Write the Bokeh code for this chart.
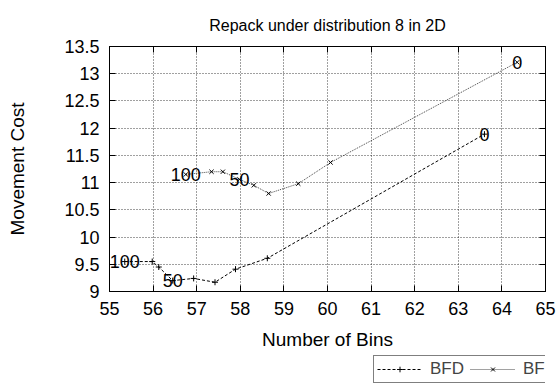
from bokeh.plotting import figure
from bokeh.layouts import column
from bokeh.models import (ColumnDataSource, Legend, LegendItem, LinearAxis,
                          FixedTicker, CustomJSTickFormatter, Range1d)
from bokeh.core.properties import value
from bokeh.embed import file_html
from bokeh.resources import INLINE

FONT = "Liberation Sans"

# BFD series (number of bins vs. movement cost), with tags on selected points
bfd_bins = [55.35, 55.98, 56.13, 56.45, 56.93, 57.42, 57.89, 58.62, 63.6]
bfd_cost = [9.55, 9.55, 9.45, 9.2, 9.24, 9.17, 9.41, 9.61, 11.89]
bfd_tags = ["100", "", "", "50", "", "", "", "", "0"]

# BF series
bf_bins = [56.75, 57.34, 57.6, 57.98, 58.31, 58.65, 59.33, 60.07, 64.35]
bf_cost = [11.15, 11.2, 11.2, 11.06, 10.95, 10.8, 10.98, 11.37, 13.21]
bf_tags = ["100", "", "", "50", "", "", "", "", "0"]

x_ticks = [55, 56, 57, 58, 59, 60, 61, 62, 63, 64, 65]
y_ticks = [9, 9.5, 10, 10.5, 11, 11.5, 12, 12.5, 13, 13.5]

BFD_STYLE = dict(line_color="black", line_dash="3 2", line_width=1)
BF_STYLE = dict(line_color="#444444", line_dash="1 1", line_width=1)

p = figure(width=559, height=352, output_backend="svg", toolbar_location=None,
           x_range=Range1d(55, 65), y_range=Range1d(9, 13.5),
           title="Repack under distribution 8 in 2D",
           x_axis_label="Number of Bins", y_axis_label="Movement Cost")

p.min_border_left = 109
p.min_border_right = 14
p.min_border_top = 46
p.min_border_bottom = 60
p.background_fill_color = "white"
p.border_fill_color = "white"
p.outline_line_color = "black"
p.outline_line_width = 1

p.title.align = "center"
p.title.text_font = FONT
p.title.text_font_size = "16px"
p.title.text_font_style = "normal"
p.title.text_color = "black"
p.title.standoff = 26

fmt = CustomJSTickFormatter(code="return String(tick);")

for ax in (p.xaxis[0], p.yaxis[0]):
    ax.major_label_text_font = FONT
    ax.major_label_text_font_size = "18px"
    ax.major_label_text_color = "black"
    ax.axis_label_text_font = FONT
    ax.axis_label_text_font_size = "19px"
    ax.axis_label_text_font_style = "normal"
    ax.axis_label_text_color = "black"
    ax.axis_line_color = "black"
    ax.major_tick_in = 6
    ax.major_tick_out = 0
    ax.minor_tick_line_color = None
    ax.major_tick_line_color = "black"
    ax.formatter = fmt

p.xaxis[0].ticker = FixedTicker(ticks=x_ticks)
p.yaxis[0].ticker = FixedTicker(ticks=y_ticks)
p.xaxis[0].major_label_standoff = 10
p.yaxis[0].major_label_standoff = 10
p.xaxis[0].axis_label_standoff = 11
p.yaxis[0].axis_label_standoff = 33

# mirrored ticks on the top and right edges, without labels
for side, ticks in (("above", x_ticks), ("right", y_ticks)):
    ax = LinearAxis(ticker=FixedTicker(ticks=ticks))
    ax.major_label_text_color = None
    ax.major_label_text_font_size = "0px"
    ax.major_label_standoff = 0
    ax.major_tick_in = 6
    ax.major_tick_out = 0
    ax.minor_tick_line_color = None
    ax.axis_line_color = "black"
    p.add_layout(ax, side)

p.xgrid.ticker = FixedTicker(ticks=x_ticks)
p.ygrid.ticker = FixedTicker(ticks=y_ticks)
for g in (p.xgrid[0], p.ygrid[0]):
    g.grid_line_color = "black"
    g.grid_line_alpha = 0.75
    g.grid_line_dash = "1 2"
    g.grid_line_width = 1

bfd_src = ColumnDataSource(dict(x=bfd_bins, y=bfd_cost))
bf_src = ColumnDataSource(dict(x=bf_bins, y=bf_cost))

p.line("x", "y", source=bfd_src, **BFD_STYLE)
p.scatter("x", "y", source=bfd_src, marker="cross", size=6,
          line_color="black", line_width=1)
p.line("x", "y", source=bf_src, **BF_STYLE)
p.scatter("x", "y", source=bf_src, marker="x", size=6,
          line_color="black", line_width=1)

# tags only on the points that carry one
for xs, ys, tags in ((bfd_bins, bfd_cost, bfd_tags), (bf_bins, bf_cost, bf_tags)):
    keep = [i for i, t in enumerate(tags) if t]
    tag_src = ColumnDataSource(dict(x=[xs[i] for i in keep],
                                    y=[ys[i] for i in keep],
                                    t=[tags[i] for i in keep]))
    p.text("x", "y", text="t", source=tag_src, text_align="center",
           text_baseline="middle", text_font=value(FONT),
           text_font_size="18px", text_color="black")

# key strip below the chart: same series, ranges kept off the data so only
# the legend shows
k = figure(width=559, height=38, output_backend="svg", toolbar_location=None,
           x_range=Range1d(0, 1), y_range=Range1d(0, 1))
k.axis.visible = False
k.grid.visible = False
k.outline_line_color = None
k.min_border = 0
k.background_fill_color = "white"
k.border_fill_color = "white"

k_bfd_line = k.line("x", "y", source=bfd_src, **BFD_STYLE)
k_bfd_pts = k.scatter("x", "y", source=bfd_src, marker="cross", size=6,
                      line_color="black", line_width=1)
k_bf_line = k.line("x", "y", source=bf_src, **BF_STYLE)
k_bf_pts = k.scatter("x", "y", source=bf_src, marker="x", size=6,
                     line_color="black", line_width=1)

legend = Legend(items=[
    LegendItem(label="BFD", renderers=[k_bfd_line, k_bfd_pts]),
    LegendItem(label="BF", renderers=[k_bf_line, k_bf_pts]),
], orientation="horizontal", location=(264, 7))
legend.border_line_color = "black"
legend.border_line_width = 1
legend.background_fill_color = "white"
legend.background_fill_alpha = 1
legend.label_text_font = FONT
legend.label_text_font_size = "17px"
legend.glyph_width = 45
legend.glyph_height = 14
legend.spacing = 6
legend.padding = 3
legend.margin = 0
legend.label_standoff = 8
legend.label_height = 14
k.add_layout(legend, "center")

page = column(p, k, spacing=0)
open("out.html", "w").write(file_html(page, INLINE))
